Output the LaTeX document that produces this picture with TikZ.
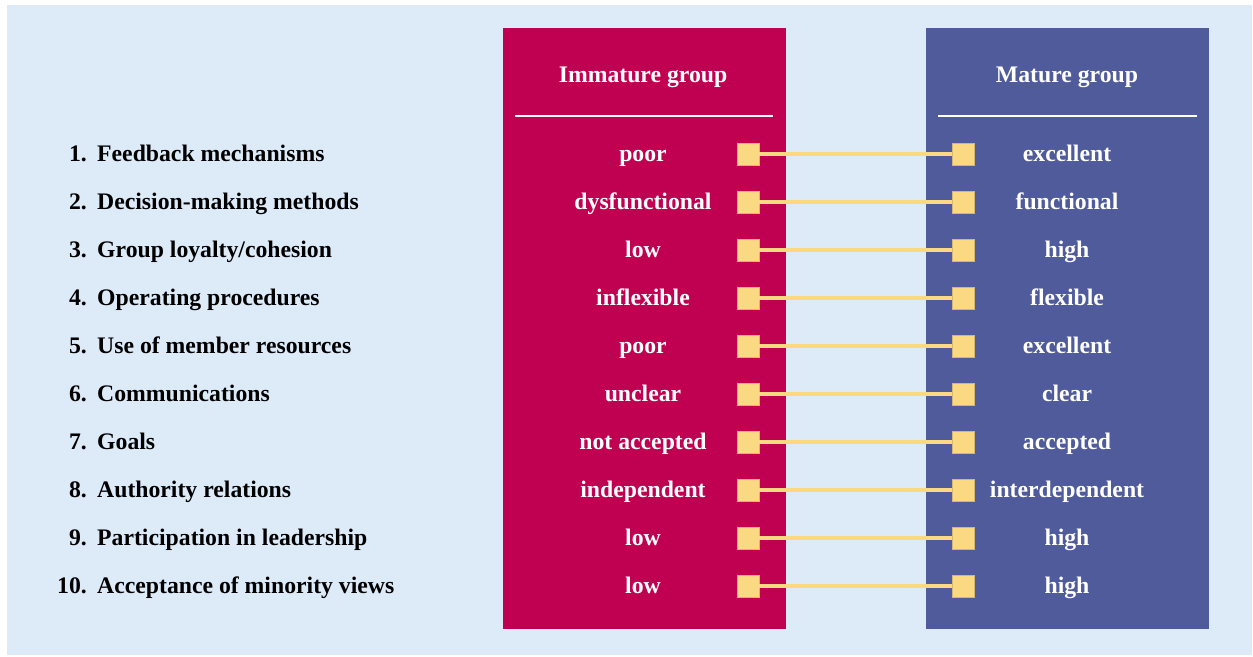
\documentclass[tikz,border=0pt]{standalone}
\usepackage{fontspec}
\setmainfont{Liberation Serif}
\definecolor{bgblue}{RGB}{221,235,249}
\definecolor{immred}{RGB}{192,0,80}
\definecolor{matblue}{RGB}{79,91,154}
\definecolor{linkyel}{RGB}{250,217,130}
\tikzset{
  panel/.style={fill=#1, minimum width=5.66cm, minimum height=12.02cm, inner sep=0pt},
  txt/.style={font=\bfseries\fontsize{13.5}{15}\selectfont, text height=1.5ex, text depth=0.3ex},
  head/.style={txt, text=white},
  cell/.style={txt, text=white},
  item/.style={txt, anchor=west},
  num/.style={txt, anchor=east, inner xsep=1pt},
  sq/.style={fill=linkyel, draw=linkyel!85!black, line width=0.3pt, minimum size=0.44cm, inner sep=0pt},
  link/.style={linkyel, line width=0.08cm}
}
\begin{document}
\begin{tikzpicture}[x=0.02cm, y=-0.02cm]
    \useasboundingbox (0,0) rectangle (1253,656);
    \fill[bgblue] (7,5) rectangle (1252,655);

    % Panels
    \node [panel=immred] (immature) at (644.5, 328.5) {};
    \node [panel=matblue] (mature) at (1067.5, 328.5) {};

    % Headers
    \node [head] (immhead) at (643, 78) {Immature group};
    \node [head] (mathead) at (1067, 78) {Mature group};
    \draw [white, line width=0.05cm] (515,116) -- (773,116);
    \draw [white, line width=0.05cm] (938,116) -- (1197,116);

    % Rows
    \foreach \i/\what/\bad/\good in {
        1/Feedback mechanisms/poor/excellent,
        2/Decision-making methods/dysfunctional/functional,
        3/Group loyalty\slash cohesion/low/high,
        4/Operating procedures/inflexible/flexible,
        5/Use of member resources/poor/excellent,
        6/Communications/unclear/clear,
        7/Goals/not accepted/accepted,
        8/Authority relations/independent/interdependent,
        9/Participation in leadership/low/high,
        10/Acceptance of minority views/low/high} {
        \node [num] (n\i) at (89, 109+48*\i) {\i.};
        \node [item] (t\i) at (91, 109+48*\i) {\what};
        \node [cell] (b\i) at (643, 109+48*\i) {\bad};
        \node [cell] (g\i) at (1067, 109+48*\i) {\good};
        \node [sq] (sl\i) at (748, 106+48*\i) {};
        \node [sq] (sr\i) at (963, 106+48*\i) {};
        \draw [link] (sl\i.east) -- (sr\i.west);
    }
\end{tikzpicture}
\end{document}
